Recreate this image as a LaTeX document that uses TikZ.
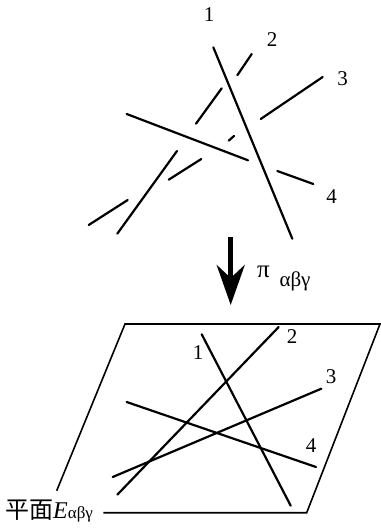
\documentclass[tikz,border=0pt]{standalone}
\usepackage{fontspec}
\setmainfont{Liberation Serif}
\newfontfamily\cjk{Noto Sans CJK SC}
\usetikzlibrary{arrows.meta}

\begin{document}
\begin{tikzpicture}[
    x=1pt, y=-1pt,
    strand/.style={line width=2.2pt, line cap=round},
    plane/.style={line width=1.6pt},
    num/.style={font=\fontsize{21}{21}\selectfont, inner sep=0pt},
    proj/.style={line width=4.5pt, -{Stealth[length=40pt, width=28pt, inset=13pt]}}
  ]
    \useasboundingbox (0,0) rectangle (380,529);

    % upper picture, four strands
    \coordinate (a1) at (213.3,47.3);
    \coordinate (a2) at (292.3,238.7);
    \draw[strand] (a1) -- (a2);

    \coordinate (b1) at (251.7,54);
    \coordinate (b2) at (237.3,75.3);
    \coordinate (b3) at (221.7,88.3);
    \coordinate (b4) at (196,123.7);
    \coordinate (b5) at (177,151);
    \coordinate (b6) at (117.3,233.7);
    \draw[strand] (b1) -- (b2);
    \draw[strand] (b3) -- (b4);
    \draw[strand] (b5) -- (b6);

    \coordinate (c1) at (322.7,77);
    \coordinate (c2) at (260.7,119);
    \coordinate (c3) at (234,136);
    \coordinate (c4) at (228.7,140.7);
    \coordinate (c5) at (201.3,159);
    \coordinate (c6) at (168.7,179.7);
    \coordinate (c7) at (127.7,200);
    \coordinate (c8) at (88.7,225);
    \draw[strand] (c1) -- (c2);
    \draw[strand] (c3) -- (c4);
    \draw[strand] (c5) -- (c6);
    \draw[strand] (c7) -- (c8);

    \coordinate (d1) at (126.7,114);
    \coordinate (d2) at (248,160.3);
    \coordinate (d3) at (277.3,171);
    \coordinate (d4) at (313.3,184);
    \draw[strand] (d1) -- (d2);
    \draw[strand] (d3) -- (d4);

    \node[num] (upone) at (209,15) {1};
    \node[num] (uptwo) at (272,40) {2};
    \node[num] (upthree) at (342.7,79) {3};
    \node[num] (upfour) at (331.7,196.7) {4};

    % projection arrow
    \coordinate (top) at (230.7,237.3);
    \coordinate (tip) at (230.7,305);
    \draw[proj] (top) -- (tip);
    \node[inner sep=0pt, font=\fontsize{25}{25}\selectfont] (pi) at (263.5,272) {π};
    \node[inner sep=0pt, font=\fontsize{21}{21}\selectfont] (pisub) at (295,281) {αβγ};

    % lower picture, the plane
    \coordinate (p1) at (56.7,490.7);
    \coordinate (p2) at (125,324);
    \coordinate (p3) at (380,324);
    \coordinate (p4) at (306.7,512.7);
    \coordinate (p5) at (103.3,512.7);
    \draw[plane] (p1) -- (p2) -- (p3) -- (p4) -- (p5);

    \coordinate (e1) at (201.7,334.3);
    \coordinate (e2) at (290.7,505.7);
    \coordinate (f1) at (278.7,327);
    \coordinate (f2) at (117.3,494.7);
    \coordinate (g1) at (321.3,388.7);
    \coordinate (g2) at (112.7,477);
    \coordinate (h1) at (126.7,402);
    \coordinate (h2) at (316,467);
    \draw[strand] (e1) -- (e2);
    \draw[strand] (f1) -- (f2);
    \draw[strand] (g1) -- (g2);
    \draw[strand] (h1) -- (h2);

    \node[num] (lowone) at (198,352.7) {1};
    \node[num] (lowtwo) at (292,336.7) {2};
    \node[num] (lowthree) at (331,377) {3};
    \node[num] (lowfour) at (311,446) {4};

    \node[inner sep=0pt, anchor=base west, font=\fontsize{24}{24}\selectfont] (planelabel) at (5,518)
      {{\cjk 平面}\textit{E}{\fontsize{17}{17}\selectfont αβγ}};
  \end{tikzpicture}
\end{document}
